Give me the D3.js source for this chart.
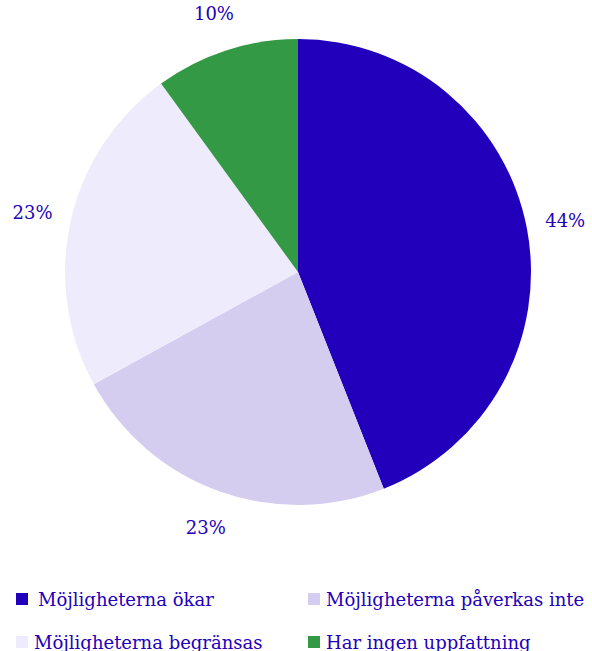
<!DOCTYPE html>
<html>
<head>
<meta charset="utf-8">
<script src="https://cdn.jsdelivr.net/npm/d3@7"></script>
<style>
  body { margin: 0; background: #fff; }
  svg text { font-family: "DejaVu Serif", serif; fill: #2200bb; }
</style>
</head>
<body>
<div id="chart"></div>
<script>
// chart values
const categories = ["Möjligheterna ökar", "Möjligheterna påverkas inte", "Möjligheterna begränsas", "Har ingen uppfattning"];
const values = [44, 23, 23, 10];
const colors = ["#2200bb", "#d4cdf0", "#eeebfc", "#339944"];

const width = 592, height = 651;
const cx = 298, cy = 272, radius = 233, labelRadius = 272;

const svg = d3.select("#chart").append("svg")
    .attr("width", width)
    .attr("height", height);

const pie = d3.pie().sort(null).value(d => d);
const arcs = pie(values);

const arc = d3.arc().innerRadius(0).outerRadius(radius);
const labelArc = d3.arc().innerRadius(labelRadius).outerRadius(labelRadius);

const g = svg.append("g").attr("transform", "translate(" + cx + "," + cy + ")");

g.selectAll("path")
  .data(arcs)
  .enter().append("path")
    .attr("d", arc)
    .attr("fill", (d, i) => colors[i]);

// percent labels
g.selectAll("text.pct")
  .data(arcs)
  .enter().append("text")
    .attr("class", "pct")
    .attr("transform", d => "translate(" + labelArc.centroid(d) + ")")
    .attr("text-anchor", "middle")
    .attr("dy", "0.35em")
    .style("font-size", "18px")
    .text(d => d.data + "%");

// legend, two columns
const legend = svg.append("g");
const item = legend.selectAll("g")
  .data(categories)
  .enter().append("g")
    .attr("transform", (d, i) => "translate(" + (i % 2 ? 308 : 16) + "," + (i < 2 ? 599 : 642) + ")");

item.append("rect")
    .attr("y", -6)
    .attr("width", 12)
    .attr("height", 12)
    .attr("fill", (d, i) => colors[i]);

item.append("text")
    .attr("x", (d, i) => i == 0 ? 22 : 18)
    .attr("dy", "0.38em")
    .style("font-size", "18px")
    .text(d => d);
</script>
</body>
</html>
